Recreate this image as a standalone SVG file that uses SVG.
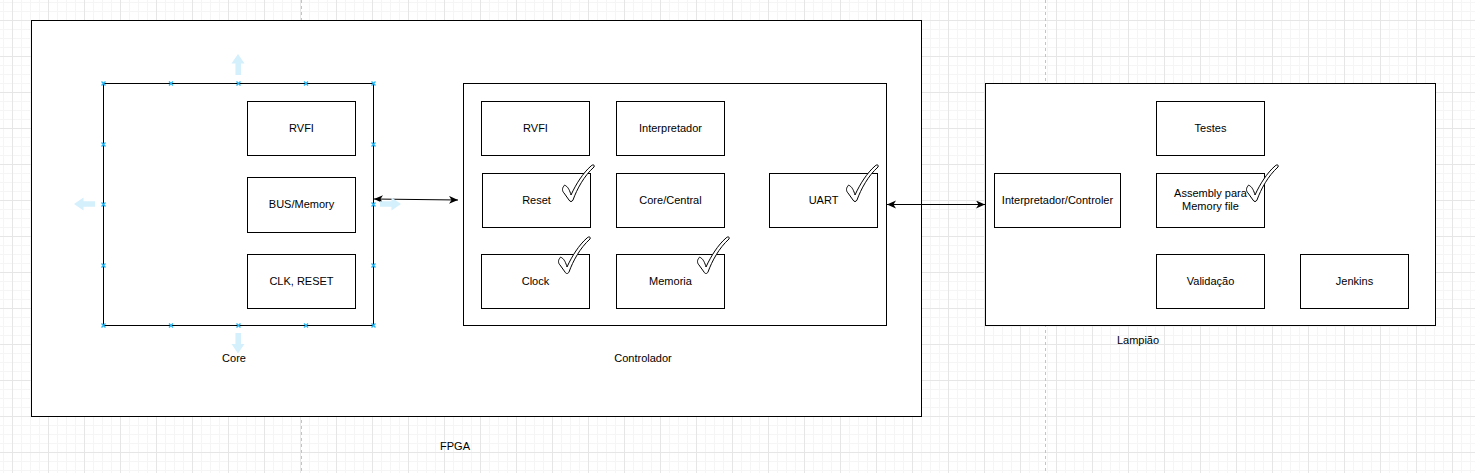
<svg xmlns="http://www.w3.org/2000/svg" width="1475" height="473" viewBox="0 0 1475 473">
<style>
.box{fill:#fff;stroke:#000;stroke-width:1}
.t{font-family:"Liberation Sans",Arial,Helvetica,sans-serif;font-size:11px;fill:#000;text-anchor:middle}
.conn{stroke:#000;stroke-width:1;fill:none}
.chk{fill:#fff;stroke:#000;stroke-width:1}
.hnd{stroke:#29b6f2;stroke-width:1.4;fill:none}
.hov{fill:#d4f0fc;stroke:none}
.pg{stroke:#c4c4c4;stroke-width:1;stroke-dasharray:3 3}
</style>
<defs>
<pattern id="grid" width="36" height="36" patternUnits="userSpaceOnUse" x="12" y="20">
<path d="M9.5 0V36M18.5 0V36M27.5 0V36M0 9.5H36M0 18.5H36M0 27.5H36" stroke="#f5f5f5" stroke-width="1"/>
<path d="M0.5 0V36M0 0.5H36" stroke="#e6e6e6" stroke-width="1"/>
</pattern>
<marker id="arr" markerWidth="10" markerHeight="10" refX="9" refY="4" orient="auto-start-reverse" markerUnits="userSpaceOnUse">
<path d="M0,0 L9,4 L0,8 L2.5,4 Z" fill="#000"/>
</marker>
<path id="check" class="chk" d="M2,21 C0,23 0,26 2,28 L7,35 C8,37 10,37 11,35 C15,24 22,11 32,2 C33,0 31,-1 29,1 C21,8 14,19 9,30 C8,26 6,22 4,21 C3,20 2,20 2,21 Z"/>
<path id="h" class="hnd" d="M-2,-2 L2,2 M-2,2 L2,-2"/>
</defs>
<rect width="1475" height="473" fill="#fff"/>
<rect width="1475" height="473" fill="url(#grid)"/>
<line class="pg" x1="301.5" y1="0" x2="301.5" y2="473"/>
<line class="pg" x1="1045.5" y1="0" x2="1045.5" y2="473"/>

<g id="fpga">
<rect class="box" x="31.5" y="20.5" width="890" height="396"/>
<text class="t" x="455" y="450">FPGA</text>
</g>

<g id="core">
<rect class="box" x="103.5" y="83.5" width="270" height="242"/>
<text class="t" x="234" y="362">Core</text>
</g>
<g id="core-rvfi"><rect class="box" x="247.5" y="101.5" width="108" height="54"/><text class="t" x="301.5" y="131.5">RVFI</text></g>
<g id="core-bus"><rect class="box" x="247.5" y="177.5" width="108" height="55"/><text class="t" x="301.5" y="208">BUS/Memory</text></g>
<g id="core-clk"><rect class="box" x="247.5" y="254.5" width="108" height="54"/><text class="t" x="301.5" y="284.5">CLK, RESET</text></g>

<g id="controlador">
<rect class="box" x="463.5" y="83.5" width="423" height="242"/>
<text class="t" x="643" y="362">Controlador</text>
</g>
<g id="ctl-rvfi"><rect class="box" x="481.5" y="101.5" width="108" height="54"/><text class="t" x="535.5" y="131.5">RVFI</text></g>
<g id="ctl-interp"><rect class="box" x="616.5" y="101.5" width="108" height="54"/><text class="t" x="670.5" y="131.5">Interpretador</text></g>
<g id="ctl-reset"><rect class="box" x="482.5" y="173.5" width="108" height="54"/><text class="t" x="536.5" y="203.5">Reset</text><use href="#check" x="562" y="165"/></g>
<g id="ctl-core"><rect class="box" x="616.5" y="173.5" width="108" height="54"/><text class="t" x="670.5" y="203.5">Core/Central</text></g>
<g id="ctl-uart"><rect class="box" x="769.5" y="173.5" width="108" height="54"/><text class="t" x="823.5" y="203.5">UART</text><use href="#check" x="846" y="165"/></g>
<g id="ctl-clock"><rect class="box" x="481.5" y="254.5" width="108" height="54"/><text class="t" x="535.5" y="284.5">Clock</text><use href="#check" x="558" y="237"/></g>
<g id="ctl-mem"><rect class="box" x="616.5" y="254.5" width="108" height="54"/><text class="t" x="670.5" y="284.5">Memoria</text><use href="#check" x="697" y="237"/></g>

<g id="lampiao">
<rect class="box" x="985.5" y="83.5" width="450" height="242"/>
<text class="t" x="1138" y="343.5">Lampião</text>
</g>
<g id="lp-testes"><rect class="box" x="1156.5" y="101.5" width="108" height="54"/><text class="t" x="1210.5" y="131.5">Testes</text></g>
<g id="lp-interp"><rect class="box" x="994.5" y="173.5" width="126" height="54"/><text class="t" x="1057.5" y="203.5">Interpretador/Controler</text></g>
<g id="lp-asm"><rect class="box" x="1156.5" y="173.5" width="108" height="54"/><text class="t" x="1210.5" y="197">Assembly para</text><text class="t" x="1210.5" y="210">Memory file</text><use href="#check" x="1246" y="165"/></g>
<g id="lp-valid"><rect class="box" x="1156.5" y="254.5" width="108" height="54"/><text class="t" x="1210.5" y="284.5">Validação</text></g>
<g id="lp-jenkins"><rect class="box" x="1300.5" y="254.5" width="108" height="54"/><text class="t" x="1354.5" y="284.5">Jenkins</text></g>

<g id="connectors">
<path class="conn" d="M374,199 L458,200" marker-start="url(#arr)" marker-end="url(#arr)"/>
<path class="conn" d="M887,204.5 L985,204.5" marker-start="url(#arr)" marker-end="url(#arr)"/>
</g>

<g id="selection">
<path class="hov" d="M238,54 L244.5,63.5 L241,63.5 L241,75 L235.5,75 L235.5,63.5 L231.5,63.5 Z"/>
<path class="hov" d="M238,353.5 L244.5,344 L241,344 L241,333 L235.5,333 L235.5,344 L231.5,344 Z"/>
<path class="hov" d="M74,204 L83.5,197.5 L83.5,201.3 L95,201.3 L95,206.7 L83.5,206.7 L83.5,210.5 Z"/>
<path class="hov" d="M401,204 L391.5,197.5 L391.5,201.3 L380,201.3 L380,206.7 L391.5,206.7 L391.5,210.5 Z"/>
<use href="#h" x="103.5" y="83.5"/><use href="#h" x="171" y="83.5"/><use href="#h" x="238.5" y="83.5"/><use href="#h" x="306" y="83.5"/><use href="#h" x="373.5" y="83.5"/>
<use href="#h" x="103.5" y="325.5"/><use href="#h" x="171" y="325.5"/><use href="#h" x="238.5" y="325.5"/><use href="#h" x="306" y="325.5"/><use href="#h" x="373.5" y="325.5"/>
<use href="#h" x="103.5" y="144.5"/><use href="#h" x="103.5" y="204.5"/><use href="#h" x="103.5" y="265.5"/>
<use href="#h" x="373.5" y="144.5"/><use href="#h" x="373.5" y="204.5"/><use href="#h" x="373.5" y="265.5"/>
</g>
</svg>
